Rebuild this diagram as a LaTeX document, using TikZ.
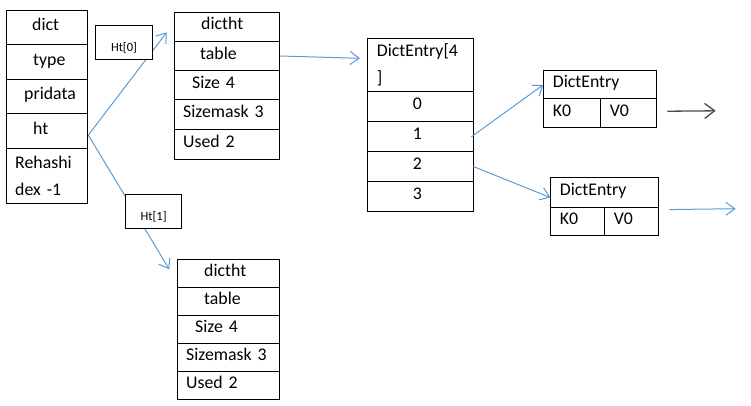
\documentclass[tikz,border=0pt]{standalone}
\usepackage{fontspec}
\setmainfont{Carlito}
\usepackage{tikz}
\usetikzlibrary{arrows.meta}

\definecolor{linkblue}{RGB}{91,155,213}
\definecolor{linkgray}{RGB}{75,75,75}
\newcommand{\cellind}[1]{\hspace*{#1pt}}

\tikzset{
	cellbox/.style={draw, line width=1pt, anchor=north west, inner xsep=0pt, inner ysep=0pt, align=left, font=\fontsize{17.8}{27}\selectfont},
	cell/.style={cellbox, text height=12pt, text depth=6pt},
	tag/.style={draw, fill=white, line width=1pt, minimum width=56.6pt, minimum height=34pt, inner sep=0pt, text height=18pt, text depth=0pt, font=\fontsize{12.5}{14}\selectfont},
	link/.style={linkblue, line width=1pt, -{Straight Barb[length=9pt,width=13pt]}},
	graylink/.style={linkgray, line width=1.3pt, -{Straight Barb[length=10pt,width=15pt]}}
}

\begin{document}
\begin{tikzpicture}[x=1pt, y=-1pt]
	\useasboundingbox (0,0) rectangle (751,405);
	
	%dict
	\node[cell, text width=81.6pt, minimum height=34pt]   (dict) at (5.7,10.3)  {\cellind{26}dict};
	\node[cell, text width=81.6pt, minimum height=35pt]   (type) at (5.7,44.3)  {\cellind{27}type};
	\node[cell, text width=81.6pt, minimum height=34pt]   (pri)  at (5.7,79.3)  {\cellind{18}pridata};
	\node[cell, text width=81.6pt, minimum height=34.7pt] (ht)   at (5.7,113.3) {\cellind{27}ht};
	\node[cellbox, text width=81.6pt, minimum height=55.3pt] (reh) at (5.7,148) {\cellind{9}Rehashi\\\cellind{9}dex -1};
	
	%dictht ht[0]
	\node[cell, text width=105.6pt, minimum height=29pt]   (dta)  at (173.7,11.7)  {\cellind{27}dictht};
	\node[cell, text width=105.6pt, minimum height=29.6pt] (tbl)  at (173.7,40.7)  {\cellind{26}table};
	\node[cell, text width=105.6pt, minimum height=29pt]   (sza)  at (173.7,70.3)  {\cellind{18}Size 4};
	\node[cell, text width=105.6pt, minimum height=30pt]   (ska)  at (173.7,99.3)  {\cellind{9}Sizemask 3};
	\node[cell, text width=105.6pt, minimum height=30pt]   (usa)  at (173.7,129.3) {\cellind{9}Used 2};
	
	%dictht ht[1]
	\node[cell, text width=102.6pt, minimum height=28pt] (dtb)  at (176.7,259.3) {\cellind{27}dictht};
	\node[cell, text width=102.6pt, minimum height=28pt] (tblb) at (176.7,287.3) {\cellind{27}table};
	\node[cell, text width=102.6pt, minimum height=28pt] (szb)  at (176.7,315.3) {\cellind{18}Size 4};
	\node[cell, text width=102.6pt, minimum height=28pt] (skb)  at (176.7,343.3) {\cellind{9}Sizemask 3};
	\node[cell, text width=102.6pt, minimum height=28pt] (usb)  at (176.7,371.3) {\cellind{9}Used 2};
	
	%table array
	\node[cellbox, text width=106pt, minimum height=53.6pt] (arr) at (367.3,37.7) {\cellind{9}DictEntry[4\\\cellind{9}]};
	\node[cell, text width=106pt, minimum height=30pt]   (zero)  at (367.3,91.3)  {\cellind{45}0};
	\node[cell, text width=106pt, minimum height=30pt]   (one)   at (367.3,121.3) {\cellind{45}1};
	\node[cell, text width=106pt, minimum height=29.4pt] (two)   at (367.3,151.3) {\cellind{45}2};
	\node[cell, text width=106pt, minimum height=30.3pt] (three) at (367.3,180.7) {\cellind{45}3};
	
	%entries
	\node[cell, text width=113pt, minimum height=28pt] (ea) at (543.3,70.3) {\cellind{9}DictEntry};
	\node[cell, text width=57pt,  minimum height=29pt] (ka) at (543.3,98.3) {\cellind{9}K0};
	\node[cell, text width=56pt,  minimum height=29pt] (va) at (600.3,98.3) {\cellind{9}V0};
	\node[cell, text width=108pt, minimum height=29.4pt] (eb) at (550.3,177.3) {\cellind{9}DictEntry};
	\node[cell, text width=54pt,  minimum height=28.6pt] (kb) at (550.3,206.7) {\cellind{9}K0};
	\node[cell, text width=54pt,  minimum height=28.6pt] (vb) at (604.3,206.7) {\cellind{9}V0};
	
	%arrow ends
	\coordinate (hztip)  at (166.7,32.3);
	\coordinate (hotip)  at (169.3,269.3);
	\coordinate (tbltip) at (360,58.3);
	\coordinate (nexta)  at (715.7,110.8);
	\coordinate (nextb)  at (735.7,208.7);
	
	%lines
	\draw[link] ([yshift=-4pt]ht.east) -- (hztip);		%ht--ht[0]
	\draw[link] ([yshift=-4pt]ht.east) -- (hotip);		%ht--ht[1]
	\node[tag] (hz) at (124,42.3)    {Ht[0]};
	\node[tag] (ho) at (153.6,211.8) {Ht[1]};
	\draw[link] (tbl.east) -- (tbltip);					%table--array
	\draw[link] ([xshift=-3pt]one.east) -- (ea.west);	%1--entry
	\draw[link] ([xshift=-1pt]two.east) -- ([yshift=-5pt]eb.west);	%2--entry
	\draw[graylink, shorten <=10pt] ([yshift=2pt]va.east) -- (nexta);
	\draw[link, shorten <=10pt] ([yshift=-2pt]eb.south east) -- (nextb);
	
\end{tikzpicture}
\end{document}
